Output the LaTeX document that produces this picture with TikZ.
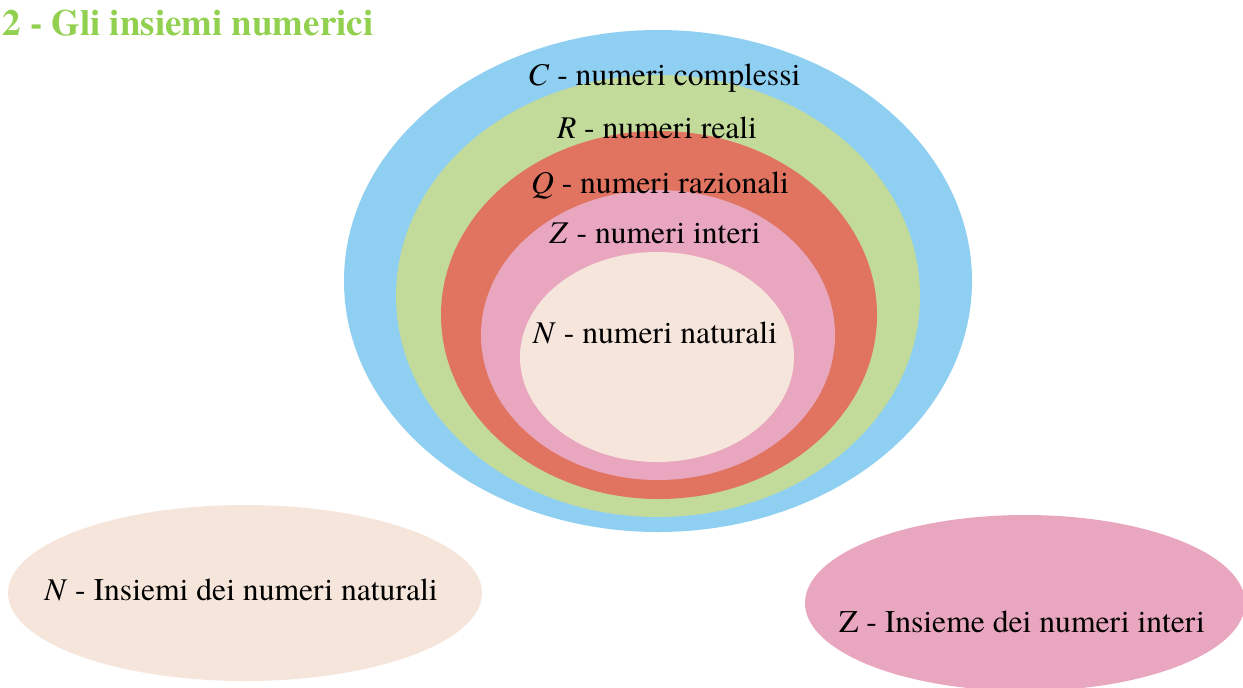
\documentclass[tikz,border=0pt]{standalone}
\usepackage{fontspec}
\setmainfont{texgyretermes}[Extension=.otf, UprightFont=*-regular,
  BoldFont=*-bold, ItalicFont=*-italic, BoldItalicFont=*-bolditalic]
\definecolor{setC}{HTML}{8ECFF2}
\definecolor{setR}{HTML}{C3DB9A}
\definecolor{setQ}{HTML}{E07461}
\definecolor{setZ}{HTML}{E9A6BF}
\definecolor{setN}{HTML}{F6E5DB}
\definecolor{titlegreen}{HTML}{92D050}
\tikzset{
  setlabel/.style={anchor=base, inner sep=0pt, font=\fontsize{18}{22}\selectfont},
  titlelabel/.style={anchor=base west, inner sep=0pt, text=titlegreen,
    font=\fontsize{21}{25}\selectfont\bfseries}
}
\begin{document}
\begin{tikzpicture}[x=0.02cm,y=-0.02cm]
  \useasboundingbox (0,0) rectangle (1243,687);
  % Title
  \node[titlelabel] (title) at (2,35) {2 - Gli insiemi numerici};
  % Nested sets, outer to inner
  \fill[setC] (658,281) ellipse [x radius=314, y radius=251];
  \fill[setR] (658,296) ellipse [x radius=262, y radius=221];
  \fill[setQ] (659,315) ellipse [x radius=218, y radius=184];
  \fill[setZ] (658,335) ellipse [x radius=177, y radius=145];
  \fill[setN] (657,357) ellipse [x radius=137, y radius=105];
  % Labels inside the sets
  \node[setlabel] (labC) at (664,85) {\textit{C} - numeri complessi};
  \node[setlabel] (labR) at (657,138) {\textit{R} - numeri reali};
  \node[setlabel] (labQ) at (660,193) {\textit{Q} - numeri razionali};
  \node[setlabel] (labZ) at (655,243) {\textit{Z} - numeri interi};
  \node[setlabel] (labN) at (655,343) {\textit{N} - numeri naturali};
  % Single sets below
  \fill[setN] (245,593) ellipse [x radius=237, y radius=88];
  \node[setlabel] (setNlab) at (241,600) {\textit{N} - Insiemi dei numeri naturali};
  \fill[setZ] (1025,603) ellipse [x radius=220, y radius=88];
  \node[setlabel] (setZlab) at (1022,632) {Z - Insieme dei numeri interi};
\end{tikzpicture}
\end{document}
